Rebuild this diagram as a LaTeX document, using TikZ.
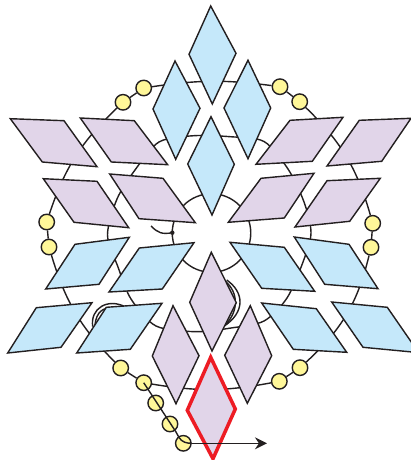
\documentclass[tikz,border=0pt]{standalone}
\usetikzlibrary{arrows.meta,backgrounds}
\definecolor{kiteblue}{HTML}{C5E8FA}
\definecolor{kitelilac}{HTML}{E1D5E9}
\definecolor{beadyellow}{HTML}{FFF799}
\definecolor{markred}{HTML}{ED1C24}
\definecolor{inkdark}{HTML}{231F20}
\tikzset{
  wire/.style={draw=inkdark,line width=.8pt},
  bluetile/.style={wire,fill=kiteblue,line join=miter},
  lilactile/.style={wire,fill=kitelilac,line join=miter},
  bead/.style={circle,wire,fill=beadyellow,minimum size=3.1mm,inner sep=0pt},
  hoop/.style={circle,wire,inner sep=0pt}
}
\begin{document}
\begin{tikzpicture}[x=.2mm,y=-.2mm,>={Stealth[length=2.4mm,width=2.4mm]}]
\useasboundingbox (0,0) rectangle (411,460);

% beads round the outside
\node[bead] (ne1) at (280,86.7) {};
\node[bead] (ne2) at (299.7,101.7) {};
\node[bead] (e1) at (372.7,223.3) {};
\node[bead] (e2) at (371,247.3) {};
\node[bead] (se1) at (300,367.7) {};
\node[bead] (se2) at (279.3,381.3) {};
\node[bead] (sw1) at (143.7,382.7) {};
\node[bead] (sw2) at (120.7,368) {};
\node[bead] (w1) at (49,247) {};
\node[bead] (w2) at (46.7,222) {};
\node[bead] (nw1) at (123,102.3) {};
\node[bead] (nw2) at (143.7,88) {};
\node[bead] (s1) at (155.7,403) {};
\node[bead] (s2) at (170,424) {};
\node[bead] (s3) at (183.3,443.3) {};
\coordinate (tip) at (267,443.3);
\coordinate (pin) at (172.3,232.7);
\coordinate (pinend) at (151,226);

\begin{pgfonlayer}{background}
\node[hoop,minimum size=15.7mm] (inner) at (211.5,233) {};
\draw[wire] plot[smooth cycle,tension=.5] coordinates {(194,135.7) (230,136.7) (264,141.5)
  (288,169) (304,202) (311,233) (303,262) (287,298) (264,321) (231,328) (196,331.7)
  (156,326) (131,299) (118,267) (107.5,235) (117,199) (135,170) (159,142)};
\draw[wire] (nw2) to[bend left=8] (ne1);
\draw[wire] (ne1) -- (ne2);
\draw[wire] (ne2) to[bend left=15] (e1);
\draw[wire] (e1) -- (e2);
\draw[wire] (e2) to[bend left=17] (se1);
\draw[wire] (se1) -- (se2);
\draw[wire] (se2) to[bend left=10] (sw1);
\draw[wire] (sw1) -- (sw2);
\draw[wire] (sw2) to[bend left=14] (w1);
\draw[wire] (w1) -- (w2);
\draw[wire] (w2) to[bend left=14] (nw1);
\draw[wire] (nw1) -- (nw2);
% the two little loops
\draw[wire] (226.7,280) .. controls (244,292) and (246,312) .. (223.3,326.7);
\draw[wire] (225.7,281.7) .. controls (238,292) and (240,312) .. (223.3,326.7);
\draw[wire] (92.7,326.7) .. controls (90,308) and (108,298) .. (125,306.7);
\draw[wire] (95,325) .. controls (96,312) and (104,306) .. (113.3,309);
\end{pgfonlayer}

% upper tiles
\draw[bluetile] (210.7,6) -- (236,53.3) -- (212.3,104) -- (189,54.3) -- cycle;
\draw[bluetile] (175,61) -- (200,108.3) -- (175.7,159.3) -- (153,109) -- cycle;
\draw[bluetile] (248,60.3) -- (270.7,108) -- (248,158.7) -- (224,108) -- cycle;
\draw[bluetile] (211,116.7) -- (234.3,164.3) -- (212,215) -- (187.7,164) -- cycle;

\draw[lilactile] (10.3,118.7) -- (64,120.7) -- (97,166.7) -- (42.3,162) -- cycle;
\draw[lilactile] (80.3,118) -- (134.3,120.7) -- (167.7,164.7) -- (111.3,162) -- cycle;
\draw[lilactile] (43.3,178.7) -- (97,181.3) -- (128.7,227.7) -- (74,222.3) -- cycle;
\draw[lilactile] (109.7,174) -- (163,178.3) -- (195.3,222.7) -- (139,218.7) -- cycle;
\draw[lilactile] (290,120.3) -- (343,117.3) -- (312.3,161.3) -- (256,164.3) -- cycle;
\draw[lilactile] (359.3,120.3) -- (411,118.3) -- (381.7,161.3) -- (327,166) -- cycle;
\draw[lilactile] (261,178.3) -- (314,173.3) -- (284.3,218) -- (228.3,222.3) -- cycle;
\draw[lilactile] (327,180.7) -- (380.3,178.3) -- (349.7,221.3) -- (295,227) -- cycle;

% lower tiles
\draw[bluetile] (75,244.3) -- (129.3,237.3) -- (99,284.3) -- (45.7,289) -- cycle;
\draw[bluetile] (139.3,248) -- (194,242.7) -- (162.3,289) -- (109,292) -- cycle;
\draw[bluetile] (36.3,307.7) -- (92,302.7) -- (61,347.3) -- (7.7,353) -- cycle;
\draw[bluetile] (106.3,307.3) -- (162,303.3) -- (130.3,349.3) -- (76.7,353) -- cycle;
\draw[bluetile] (230,242.3) -- (284.3,247.3) -- (314.7,291.3) -- (261.7,288.3) -- cycle;
\draw[bluetile] (294.3,237) -- (349,244.3) -- (378,288.7) -- (324.7,284.3) -- cycle;
\draw[bluetile] (261.7,303) -- (316.3,308.7) -- (346.7,352.3) -- (293.3,349.3) -- cycle;
\draw[bluetile] (331.7,302) -- (387.3,307.3) -- (418.6,352.6) -- (363,347.3) -- cycle;

\draw[lilactile] (211.3,252.3) -- (236.3,302.7) -- (212,351) -- (189.7,302.3) -- cycle;
\draw[lilactile] (173,305.7) -- (199,355.7) -- (176,403.7) -- (152.3,356) -- cycle;
\draw[lilactile] (250.3,305.7) -- (271.7,355.7) -- (247.3,403.3) -- (224.7,355.3) -- cycle;
\draw[lilactile,draw=markred,line width=2pt] (210.7,357.3) -- (235.3,409) -- (213,458.7) -- (187.3,410.3) -- cycle;

% path along the bottom beads
\draw[wire] (sw1.center) -- (176,432) -- (179,437.5) .. controls (182,442) and (186,443.3) .. (s3.east);
\draw[wire,->] (s3.east) -- (tip);
\draw[wire] (pinend) .. controls (158,233) and (162,234.5) .. (pin);
\fill[inkdark] (pin) circle (2.2);
\end{tikzpicture}
\end{document}
